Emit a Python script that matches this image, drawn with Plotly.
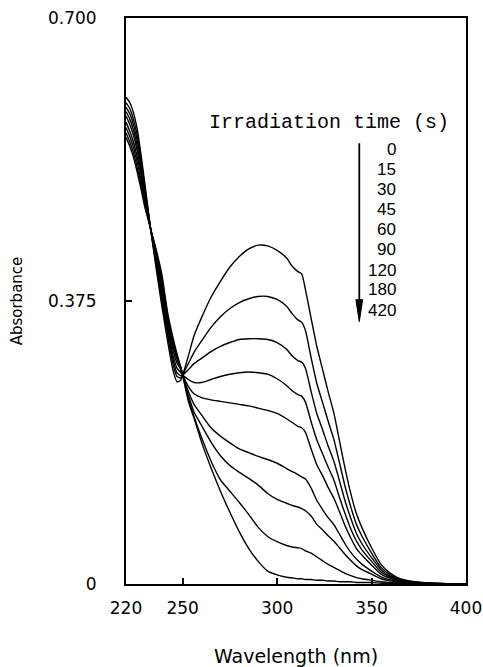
import plotly.graph_objects as go

wavelength = [220, 222, 224, 226, 228, 230, 233, 236, 239, 242, 245, 247, 249, 250,
              253, 256, 260, 265, 270, 275, 280, 285, 290, 295, 300, 305,
              308, 311, 313, 315, 318, 321, 324, 327, 330, 333, 336, 339, 342, 345,
              350, 355, 360, 365, 370, 380, 390, 400]

times = ["0", "15", "30", "45", "60", "90", "120", "180", "420"]

abs_0s = [0.645, 0.638, 0.624, 0.602, 0.568, 0.530, 0.471, 0.418, 0.368, 0.322, 0.282, 0.268, 0.270, 0.277,
          0.302, 0.329, 0.353, 0.380, 0.401, 0.420, 0.434, 0.444, 0.449, 0.448, 0.442, 0.432,
          0.421, 0.414, 0.411, 0.390, 0.352, 0.315, 0.285, 0.255, 0.227, 0.190, 0.153, 0.120, 0.093, 0.074,
          0.048, 0.026, 0.014, 0.007, 0.004, 0.0015, 0.0005, 0.0]
abs_15s = [0.638, 0.630, 0.615, 0.594, 0.562, 0.526, 0.471, 0.422, 0.375, 0.330, 0.290, 0.275, 0.273, 0.277,
           0.292, 0.307, 0.322, 0.340, 0.354, 0.365, 0.373, 0.378, 0.381, 0.381, 0.377, 0.368,
           0.358, 0.350, 0.347, 0.336, 0.300, 0.266, 0.241, 0.216, 0.192, 0.161, 0.129, 0.102, 0.079, 0.063,
           0.041, 0.022, 0.012, 0.006, 0.0035, 0.0013, 0.0004, 0.0]
abs_30s = [0.632, 0.623, 0.608, 0.587, 0.557, 0.522, 0.471, 0.425, 0.379, 0.335, 0.296, 0.280, 0.276, 0.277,
           0.284, 0.292, 0.299, 0.308, 0.315, 0.320, 0.324, 0.325, 0.325, 0.324, 0.320, 0.311,
           0.302, 0.296, 0.294, 0.286, 0.255, 0.226, 0.205, 0.183, 0.163, 0.137, 0.110, 0.087, 0.067, 0.053,
           0.035, 0.019, 0.010, 0.0053, 0.003, 0.0011, 0.0004, 0.0]
abs_45s = [0.626, 0.616, 0.601, 0.580, 0.552, 0.519, 0.471, 0.428, 0.383, 0.340, 0.302, 0.286, 0.280, 0.277,
           0.271, 0.267, 0.267, 0.271, 0.275, 0.278, 0.280, 0.281, 0.280, 0.278, 0.272, 0.263,
           0.256, 0.251, 0.249, 0.241, 0.215, 0.191, 0.173, 0.155, 0.138, 0.115, 0.093, 0.073, 0.057, 0.045,
           0.030, 0.016, 0.009, 0.0046, 0.0026, 0.0009, 0.0003, 0.0]
abs_60s = [0.620, 0.609, 0.594, 0.573, 0.547, 0.515, 0.471, 0.431, 0.388, 0.345, 0.309, 0.293, 0.284, 0.277,
           0.262, 0.252, 0.247, 0.244, 0.242, 0.240, 0.238, 0.236, 0.233, 0.230, 0.226, 0.219,
           0.214, 0.209, 0.207, 0.201, 0.179, 0.158, 0.144, 0.128, 0.114, 0.096, 0.077, 0.061, 0.047, 0.038,
           0.025, 0.013, 0.0074, 0.004, 0.0023, 0.0007, 0.0002, 0.0]
abs_90s = [0.612, 0.600, 0.585, 0.565, 0.541, 0.511, 0.471, 0.434, 0.393, 0.350, 0.315, 0.298, 0.286, 0.277,
           0.255, 0.238, 0.224, 0.207, 0.196, 0.187, 0.179, 0.174, 0.169, 0.165, 0.160, 0.153,
           0.149, 0.145, 0.142, 0.139, 0.127, 0.111, 0.099, 0.088, 0.079, 0.066, 0.053, 0.042, 0.033, 0.026,
           0.017, 0.0094, 0.0054, 0.003, 0.0016, 0.0005, 0.0002, 0.0]
abs_120s = [0.605, 0.593, 0.578, 0.558, 0.535, 0.507, 0.471, 0.437, 0.399, 0.353, 0.318, 0.300, 0.287, 0.277,
            0.250, 0.228, 0.210, 0.188, 0.170, 0.157, 0.148, 0.140, 0.131, 0.120, 0.112, 0.107,
            0.104, 0.102, 0.100, 0.097, 0.090, 0.079, 0.072, 0.064, 0.057, 0.048, 0.039, 0.031, 0.024, 0.019,
            0.013, 0.007, 0.0042, 0.0025, 0.0014, 0.0004, 0.0001, 0.0]
abs_180s = [0.598, 0.586, 0.571, 0.551, 0.529, 0.503, 0.471, 0.440, 0.405, 0.356, 0.321, 0.302, 0.287, 0.277,
            0.246, 0.222, 0.194, 0.163, 0.138, 0.123, 0.108, 0.092, 0.075, 0.063, 0.056, 0.051,
            0.049, 0.048, 0.047, 0.044, 0.041, 0.036, 0.031, 0.026, 0.022, 0.018, 0.014, 0.011, 0.0085, 0.007,
            0.005, 0.003, 0.002, 0.0012, 0.0009, 0.0002, 0.0001, 0.0]
abs_420s = [0.592, 0.580, 0.565, 0.545, 0.523, 0.499, 0.471, 0.443, 0.410, 0.360, 0.325, 0.305, 0.287, 0.277,
            0.242, 0.220, 0.188, 0.154, 0.123, 0.095, 0.069, 0.047, 0.030, 0.017, 0.012, 0.009,
            0.008, 0.007, 0.007, 0.006, 0.006, 0.005, 0.005, 0.004, 0.004, 0.003, 0.003, 0.003, 0.002, 0.002,
            0.002, 0.001, 0.001, 0.001, 0.0005, 0.0, 0.0, 0.0]

series = [abs_0s, abs_15s, abs_30s, abs_45s, abs_60s, abs_90s, abs_120s, abs_180s, abs_420s]

x_ticks = [220, 250, 300, 350, 400]
y_ticks = [0, 0.375, 0.75]
y_ticktext = ["0", "0.375", "0.700"]

fig = go.Figure()
for t, ys in zip(times, series):
    fig.add_trace(go.Scatter(x=wavelength, y=ys, mode="lines", name=t + " s",
                             line=dict(color="black", width=1.4, shape="spline", smoothing=0.6),
                             showlegend=False, hoverinfo="skip"))

axis_font = dict(family="DejaVu Sans", size=17, color="black")

fig.update_layout(
    width=483, height=667,
    margin=dict(l=126, r=17, t=18, b=83, autoexpand=False),
    paper_bgcolor="white", plot_bgcolor="white",
    xaxis=dict(range=[220, 400], tickvals=x_ticks, ticks="inside", ticklen=6, tickwidth=1.5,
               tickcolor="black", showline=True, linewidth=2, linecolor="black", mirror=True,
               showgrid=False, zeroline=False, tickfont=axis_font, ticklabelstandoff=8,
               automargin=False,
               title=dict(text="Wavelength (nm)", font=dict(family="DejaVu Sans", size=19, color="black"),
                          standoff=34)),
    yaxis=dict(range=[0, 0.75], tickvals=y_ticks, ticktext=y_ticktext, ticks="inside", ticklen=6,
               tickwidth=1.5, tickcolor="black", showline=True, linewidth=2, linecolor="black",
               mirror=True, showgrid=False, zeroline=False, tickfont=axis_font, ticklabelstandoff=24,
               automargin=False,
               title=dict(text="Absorbance", font=dict(family="DejaVu Sans", size=15, color="black"),
                          standoff=22)),
)

# legend title
fig.add_annotation(x=263, y=0.611, xref="x", yref="y", text="Irradiation time (s)",
                   showarrow=False, xanchor="left", yanchor="middle",
                   font=dict(family="Courier New, Liberation Mono, monospace", size=20, color="black"))

legend_y = [0.576, 0.5495, 0.523, 0.4965, 0.470, 0.4435, 0.416, 0.3896, 0.363]
for t, yy in zip(times, legend_y):
    fig.add_annotation(x=364, y=yy, xref="x", yref="y", text=t, showarrow=False,
                       xanchor="right", yanchor="middle",
                       font=dict(family="Liberation Sans, Arial", size=17, color="black"))

# arrow (shaft + slender head)
fig.add_shape(type="line", xref="x", yref="y", x0=343.5, x1=343.5, y0=0.584, y1=0.372,
              line=dict(color="black", width=1.8))
fig.add_shape(type="path", xref="x", yref="y",
              path="M 341.7,0.3767 L 345.3,0.3767 L 343.5,0.3476 Z",
              fillcolor="black", line=dict(color="black", width=1))

fig.write_html("out.html", config={"displayModeBar": False},
               post_script="document.body.style.margin='0px';")
